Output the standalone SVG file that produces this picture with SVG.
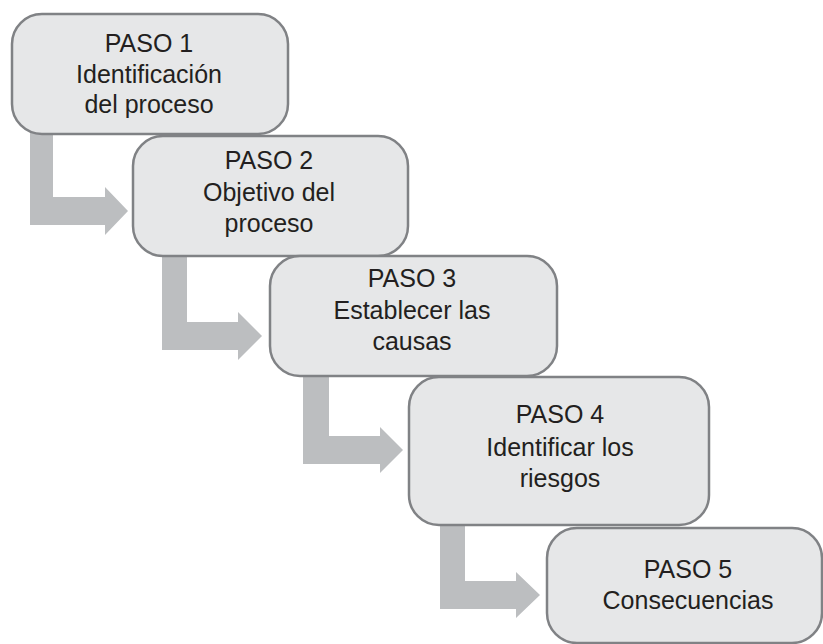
<svg xmlns="http://www.w3.org/2000/svg" width="823" height="644" viewBox="0 0 823 644">
<style>
.box{fill:#e6e7e8;stroke:#808285;stroke-width:2.5}
.arr{fill:#bcbec0}
text{font-family:"Liberation Sans",Arial,sans-serif;font-size:25px;fill:#231f20;text-anchor:middle}
</style>
<rect width="823" height="644" fill="#ffffff"/>
<g id="connectors">
<polygon class="arr" points="30,130 53,130 53,197 105,197 105,187 128,211 105,235 105,225 30,225"/>
<polygon class="arr" points="162,252 187,252 187,322 238,322 238,312 262,336 238,360 238,350 162,350"/>
<polygon class="arr" points="303,372 329,372 329,436 380,436 380,427 403,450 380,473 380,464 303,464"/>
<polygon class="arr" points="440,520 465,520 465,581 516,581 516,572 540,595 516,618 516,609 440,609"/>
</g>
<g id="paso1">
<rect class="box" x="12" y="14" width="276" height="120" rx="30"/>
<text x="149" y="52">PASO 1</text>
<text x="149" y="83">Identificación</text>
<text x="149" y="113">del proceso</text>
</g>
<g id="paso2">
<rect class="box" x="133" y="136" width="275" height="120" rx="30"/>
<text x="269" y="169">PASO 2</text>
<text x="269" y="201">Objetivo del</text>
<text x="269" y="232">proceso</text>
</g>
<g id="paso3">
<rect class="box" x="270" y="256" width="287" height="120" rx="30"/>
<text x="412" y="287">PASO 3</text>
<text x="412" y="319">Establecer las</text>
<text x="412" y="350">causas</text>
</g>
<g id="paso4">
<rect class="box" x="409" y="377" width="300" height="148" rx="30"/>
<text x="560" y="423">PASO 4</text>
<text x="560" y="456">Identificar los</text>
<text x="560" y="487">riesgos</text>
</g>
<g id="paso5">
<rect class="box" x="547" y="528" width="275" height="115" rx="30"/>
<text x="688" y="578">PASO 5</text>
<text x="688" y="609">Consecuencias</text>
</g>
</svg>
